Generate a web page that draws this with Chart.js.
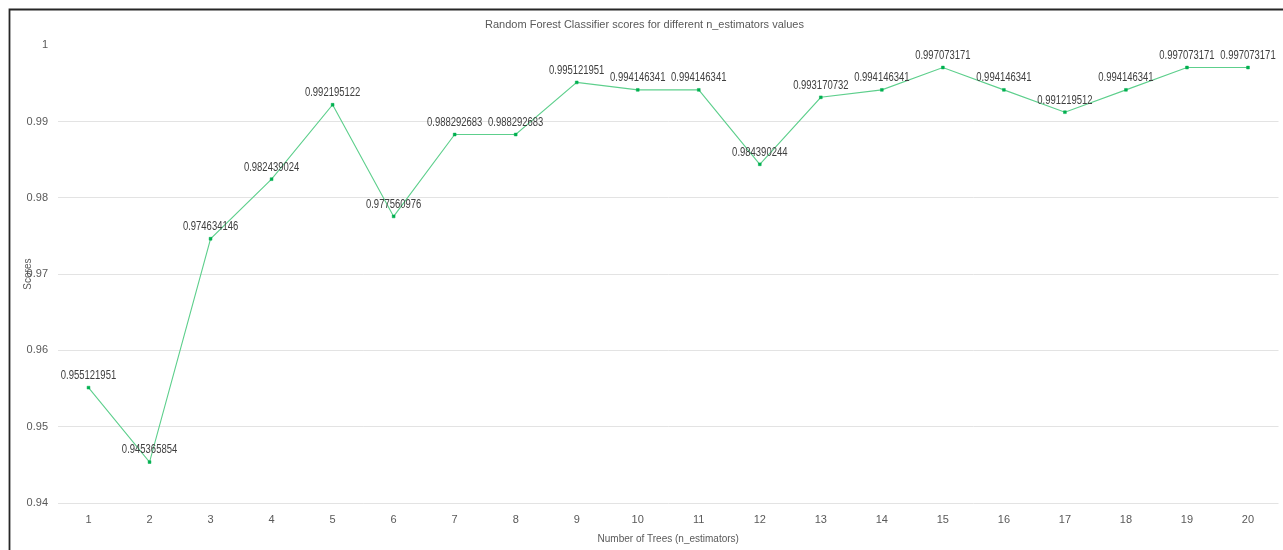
<!DOCTYPE html>
<html>
<head>
<meta charset="utf-8">
<script src="https://cdn.jsdelivr.net/npm/chart.js@4/dist/chart.umd.min.js"></script>
<style>
  body { margin: 0; background: #fff; }
  #wrap { position: relative; width: 1283px; height: 550px; }
</style>
</head>
<body>
<div id="wrap"><canvas id="myChart" width="1283" height="550"></canvas></div>
<script>
// datos del grafico
const arboles = ['1','2','3','4','5','6','7','8','9','10','11','12','13','14','15','16','17','18','19','20'];
const puntajes = [
    0.955121951, 0.945365854, 0.974634146, 0.982439024, 0.992195122,
    0.977560976, 0.988292683, 0.988292683, 0.995121951, 0.994146341,
    0.994146341, 0.984390244, 0.993170732, 0.994146341, 0.997073171,
    0.994146341, 0.991219512, 0.994146341, 0.997073171, 0.997073171
];
const ticksY = [0.94, 0.95, 0.96, 0.97, 0.98, 0.99, 1];

const fuente = '"Liberation Sans", Arial, sans-serif';
const gris = '#595959';

// marco negro arriba e izquierda
const marco = {
    id: 'marco',
    beforeDraw(chart) {
        const ctx = chart.ctx;
        ctx.save();
        ctx.fillStyle = '#fff';
        ctx.fillRect(0, 0, chart.width, chart.height);
        ctx.strokeStyle = '#262626';
        ctx.lineWidth = 1.8;
        ctx.beginPath();
        ctx.moveTo(9.5, chart.height);
        ctx.lineTo(9.5, 9.5);
        ctx.lineTo(chart.width, 9.5);
        ctx.stroke();
        ctx.restore();
    }
};

// etiquetas de valores encima de cada punto (texto estrecho tipo Calibri)
const etiquetas = {
    id: 'etiquetas',
    afterDatasetsDraw(chart) {
        const ctx = chart.ctx;
        const meta = chart.getDatasetMeta(0);
        const k = 0.79;
        ctx.save();
        ctx.font = '12px ' + fuente;
        ctx.fillStyle = '#404040';
        ctx.textAlign = 'center';
        ctx.textBaseline = 'middle';
        meta.data.forEach((p, i) => {
            ctx.save();
            ctx.translate(p.x, p.y - 12);
            ctx.scale(k, 1);
            ctx.fillText(String(puntajes[i]), 0, 0);
            ctx.restore();
        });
        ctx.restore();
    }
};

let ctx = document.getElementById('myChart').getContext('2d');

let miGrafico = new Chart(ctx, {
    type: 'line',
    data: {
        labels: arboles,
        datasets: [{
            label: 'Scores',
            data: puntajes,
            borderColor: '#5dcf8c',
            borderWidth: 1.1,
            backgroundColor: '#00b050',
            pointStyle: 'rect',
            pointRadius: 2,
            pointBorderWidth: 0.5,
            pointBorderColor: '#00b050',
            pointBackgroundColor: '#00b050',
            tension: 0
        }]
    },
    options: {
        responsive: false,
        animation: false,
        layout: { padding: { left: 10, right: 4, top: 17, bottom: 0 } },
        plugins: {
            legend: { display: false },
            tooltip: { enabled: false },
            title: {
                display: true,
                text: 'Random Forest Classifier scores for different n_estimators values',
                color: gris,
                font: { family: fuente, size: 11, weight: 'normal' },
                padding: { top: 1, bottom: 14 }
            }
        },
        scales: {
            x: {
                offset: true,
                grid: { display: false, drawTicks: false },
                border: { display: false },
                ticks: { color: gris, font: { family: fuente, size: 11 }, padding: 10 },
                title: {
                    display: true,
                    text: 'Number of Trees (n_estimators)',
                    color: gris,
                    font: { family: fuente, size: 10 },
                    padding: { top: 0, bottom: 5 }
                },
                afterFit: s => { s.height = 47; }
            },
            y: {
                min: 0.94,
                max: 1,
                afterBuildTicks: s => { s.ticks = ticksY.map(v => ({ value: v })); },
                grid: {
                    drawTicks: false,
                    color: c => (c.tick && c.tick.value === 1) ? 'rgba(0,0,0,0)' : '#e3e3e3',
                    lineWidth: 1
                },
                border: { display: false },
                ticks: {
                    color: gris,
                    font: { family: fuente, size: 11 },
                    padding: 10,
                    callback: v => String(Math.round(v * 100) / 100)
                },
                title: {
                    display: true,
                    text: 'Scores',
                    color: gris,
                    font: { family: fuente, size: 10 },
                    padding: { top: 12, bottom: 0 }
                },
                afterFit: s => { s.width = 48; }
            }
        }
    },
    plugins: [marco, etiquetas]
});
</script>
</body>
</html>
